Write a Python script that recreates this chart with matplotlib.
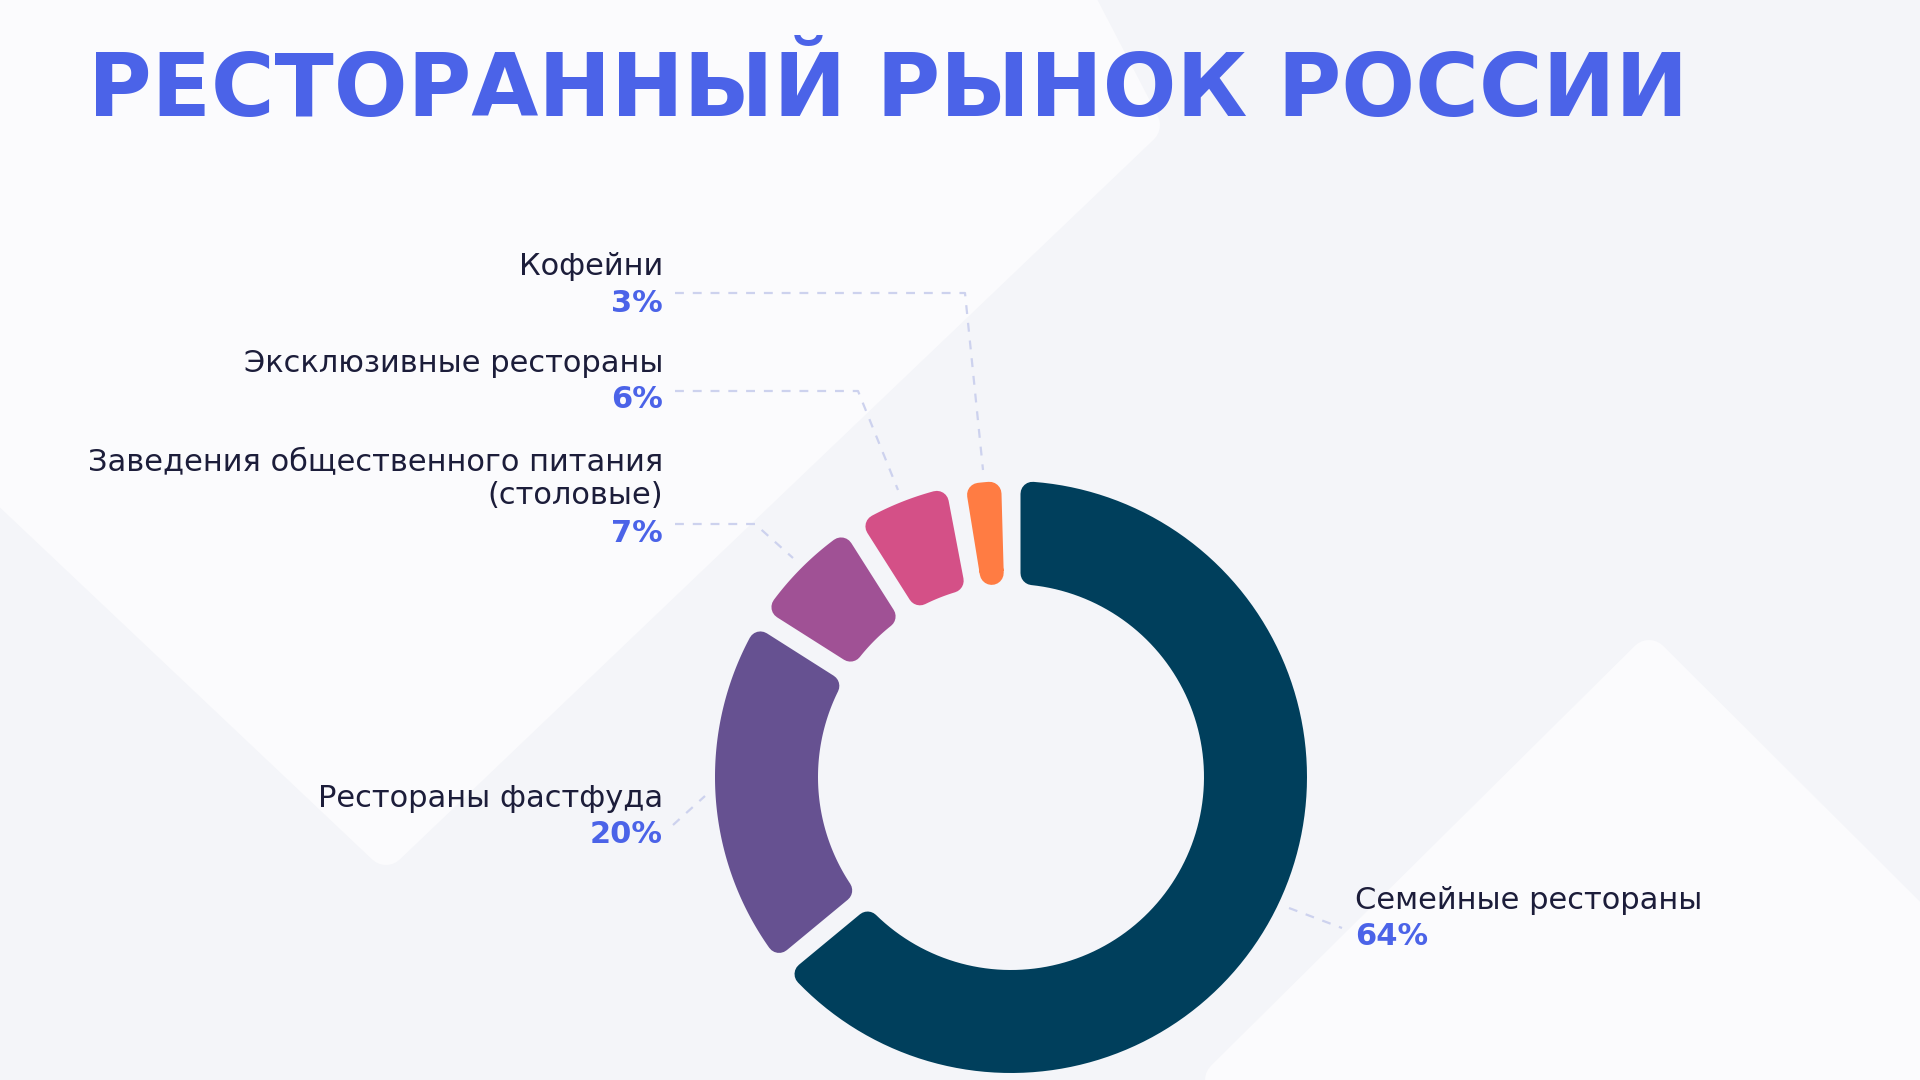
"""
Ресторанный рынок России — кольцевая диаграмма
"""

import numpy as np
import matplotlib.pyplot as plt
from matplotlib.patches import Polygon

# данные
categories = [
    "Семейные рестораны",
    "Рестораны фастфуда",
    "Заведения общественного питания\n(столовые)",
    "Эксклюзивные рестораны",
    "Кофейни",
]
shares = [64, 20, 7, 6, 3]
share_labels = ["64%", "20%", "7%", "6%", "3%"]
colors = ["#003f5c", "#665191", "#a05195", "#d45087", "#ff7c43"]
title = "РЕСТОРАННЫЙ РЫНОК РОССИИ"

# оформление
W, H = 1920, 1080
BG = "#f4f5f9"
BG_LIGHT = "#fbfbfd"
BLUE = "#4b63e8"
DARK = "#1c1d3a"
LEADER = "#cdd2ee"
PX = 72 / 100  # пиксели -> пункты

plt.rcParams["font.family"] = ["DejaVu Sans"]

fig = plt.figure(figsize=(19.2, 10.8), dpi=100, facecolor=BG)
ax = fig.add_axes([0, 0, 1, 1])
ax.set_facecolor(BG)


def yy(y):
    # координаты макета считаются сверху вниз
    return H - y


# фоновые светлые фигуры
for pts in (
    [(0, 0), (1075, 0), (1140, 125), (386, 845), (0, 480)],
    [(1649, 660), (1920, 930), (1920, 1080), (1225, 1080)],
):
    ax.add_patch(
        Polygon(
            [(x, yy(y)) for x, y in pts],
            closed=True,
            facecolor=BG_LIGHT,
            edgecolor=BG_LIGHT,
            linewidth=40 * PX,
            joinstyle="round",
            zorder=0,
        )
    )

# кольцо
CX, CY = 1011, yy(777)
R_OUT, R_IN = 296, 193
GAP, CORNER = 19, 12

wedges, _ = ax.pie(
    shares,
    colors=colors,
    startangle=90,
    counterclock=False,
    radius=R_OUT,
    center=(CX, CY),
    wedgeprops=dict(width=R_OUT - R_IN),
)

d = GAP / 2 + CORNER
ro, ri = R_OUT - CORNER, R_IN + CORNER
for w in wedges:
    w.set_visible(False)
    t1, t2 = w.theta1, w.theta2
    ao = np.degrees(np.arcsin(d / ro))
    ai = np.degrees(np.arcsin(d / ri))
    outer = np.radians(np.linspace(t1 + ao, t2 - ao, 120))
    i1, i2 = t1 + ai, t2 - ai
    if i2 < i1:
        i1 = i2 = (t1 + t2) / 2
    inner = np.radians(np.linspace(i2, i1, 120))
    xs = np.concatenate([CX + ro * np.cos(outer), CX + ri * np.cos(inner)])
    ys = np.concatenate([CY + ro * np.sin(outer), CY + ri * np.sin(inner)])
    ax.add_patch(
        Polygon(
            np.column_stack([xs, ys]),
            closed=True,
            facecolor=w.get_facecolor(),
            edgecolor=w.get_facecolor(),
            linewidth=2 * CORNER * PX,
            joinstyle="round",
            zorder=3,
        )
    )

ax.set_xlim(0, W)
ax.set_ylim(0, H)
ax.set_aspect("equal")
ax.axis("off")

# заголовок
ax.text(88, yy(116), title, fontsize=62.5, fontweight="bold", color=BLUE,
        ha="left", va="baseline")

# подписи: (x, базовая линия названия, базовая линия процента, выравнивание)
label_pos = [
    (1355, 909, 945, "left"),
    (663, 807, 843, "right"),
    (663, 504, 542, "right"),
    (663, 372, 408, "right"),
    (663, 275, 312, "right"),
]
for name, pct, (x, yn, yp, ha) in zip(categories, share_labels, label_pos):
    ax.text(x, yy(yn), name, fontsize=22, color=DARK, ha=ha, va="baseline",
            linespacing=1.15, multialignment="right")
    ax.text(x, yy(yp), pct, fontsize=22, fontweight="bold", color=BLUE,
            ha=ha, va="baseline")

# выноски
leaders = [
    [(1289, 908), (1342, 928)],
    [(673, 825), (705, 796)],
    [(675, 524), (755, 524), (793, 558)],
    [(675, 391), (858, 391), (898, 490)],
    [(675, 293), (965, 293), (983, 470)],
]
for pts in leaders:
    ax.plot([p[0] for p in pts], [yy(p[1]) for p in pts], color=LEADER,
            linewidth=1.6, linestyle=(0, (4, 4)), zorder=2)

fig.savefig("out.png", dpi=100, facecolor=BG)
plt.close(fig)
